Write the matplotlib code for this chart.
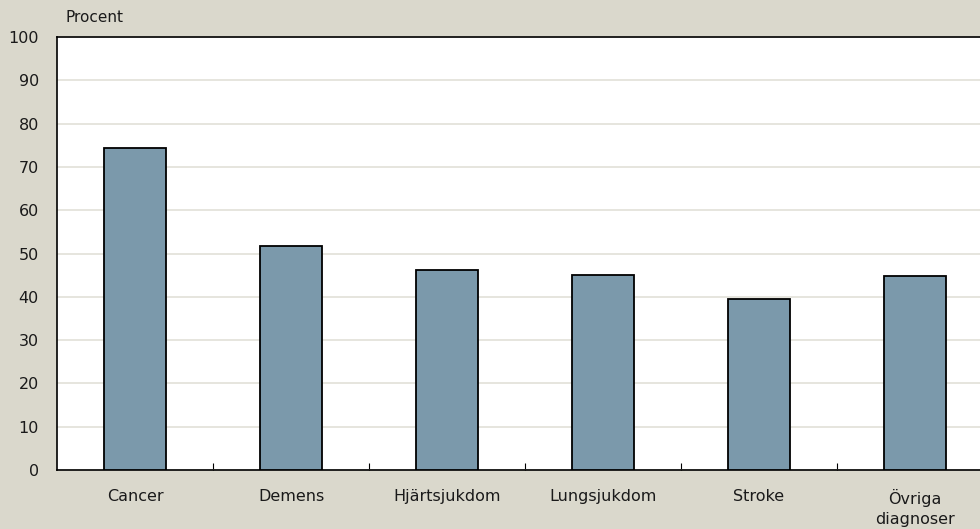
import matplotlib.pyplot as plt
import numpy as np

# data
kategorier = ["Cancer", "Demens", "Hjärtsjukdom", "Lungsjukdom", "Stroke", "Övriga\ndiagnoser"]
procent = [74.3, 51.8, 46.3, 45.1, 39.4, 44.9]
yticks = list(range(0, 101, 10))

bg = "#DAD8CC"
bar_color = "#7B99AB"
grid_color = "#E2E0D8"
txt = "#1a1a1a"

plt.rcParams["font.family"] = ["DejaVu Sans"]

fig = plt.figure(figsize=(9.8, 5.29), dpi=100, facecolor=bg)
# plot area runs past the right edge, as in the original
ax = fig.add_axes([57 / 980, 1 - 470 / 529, 936 / 980, 433 / 529])
ax.set_facecolor("white")

x = np.arange(len(kategorier))
ax.bar(x, procent, width=0.40, color=bar_color, edgecolor="black", linewidth=1.3, zorder=3)

ax.set_xlim(-0.5, len(kategorier) - 0.5)
ax.set_ylim(0, 100)
ax.set_yticks(yticks)
ax.yaxis.grid(True, color=grid_color, linewidth=1.2, zorder=0)
ax.tick_params(axis="y", length=0, pad=13, labelsize=11.5, colors=txt)

ax.set_xticks(x)
ax.set_xticklabels(kategorier, fontsize=11.5, color=txt, linespacing=1.35)
ax.tick_params(axis="x", which="major", length=0, pad=14)
ax.set_xticks(x[:-1] + 0.5, minor=True)
ax.tick_params(axis="x", which="minor", direction="in", length=5, width=0.8, color="black")

for side in ["top", "left", "bottom"]:
    ax.spines[side].set_color("black")
    ax.spines[side].set_linewidth(1.2)
ax.spines["right"].set_visible(False)

fig.text(65 / 980, 1 - 18 / 529, "Procent", fontsize=11, color=txt, va="center", ha="left")

fig.savefig("out.png", dpi=100, facecolor=bg)
